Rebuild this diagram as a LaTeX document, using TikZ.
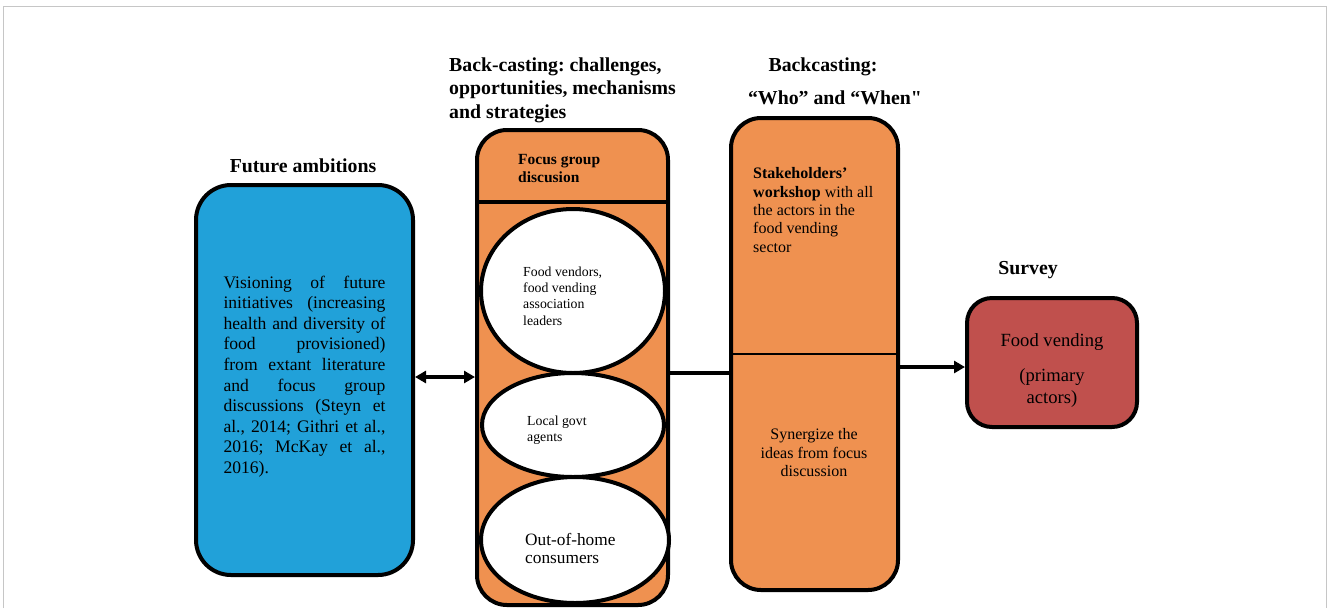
\documentclass[tikz,border=0pt]{standalone}
\usepackage{fontspec}
\setmainfont{Liberation Serif}
\newfontfamily\quotefont{Liberation Serif}
\usepackage{tikz}
\usetikzlibrary{arrows.meta,shapes.geometric,positioning}
\definecolor{visblue}{RGB}{33,161,217}
\definecolor{castorange}{RGB}{239,145,80}
\definecolor{surveyred}{RGB}{192,80,77}
\frenchspacing

\begin{document}
\begin{tikzpicture}[x=1pt,y=-1pt,
    stagebox/.style={draw, line width=4pt, rectangle, inner sep=0pt},
    oval/.style={draw, line width=4pt, ellipse, fill=white, inner sep=0pt},
    heading/.style={font=\bfseries\fontsize{19.8}{23.5}\selectfont, inner sep=0pt},
    body/.style={inner sep=0pt, align=left},
    link/.style={line width=3.5pt},
    >={Triangle[length=11pt,width=12pt]}]
            \fill[white] (0,0) rectangle (1330,608);
            \draw[gray!45, line width=1pt] (3,608) -- (3,6) -- (1326,6) -- (1326,608);

            \node[heading, anchor=base] at (303,172) (H1) {Future ambitions};
            \node[heading, anchor=west, align=left] at (449,90) (H2) {Back-casting: challenges,\\opportunities, mechanisms\\and strategies};
            \node[heading, anchor=base] at (823,71) (H3) {Backcasting:};
            \node[heading, anchor=base, font={\quotefont\bfseries\fontsize{19.8}{23.5}\selectfont}] at (835,104) (H3b) {“Who” and “When"};
            \node[heading, anchor=base] at (1028,274) (H4) {Survey};

            \node[stagebox, fill=visblue, rounded corners=35pt, minimum width=217pt, minimum height=390pt] at (304.5,380) (VIS) {};
            \node[body, text width=162pt, align=justify, font=\fontsize{17.6}{20.6}\selectfont] at (304.5,376.5) (VIStxt) {\tolerance=9999
                Visioning of future\linebreak initiatives (increasing\linebreak health and diversity of\linebreak
                food provisioned)\linebreak from extant literature\linebreak and focus group\linebreak
                discussions (Steyn et\linebreak al., 2014; Githri et al.,\linebreak 2016; McKay et al.,\linebreak 2016).};

            \node[stagebox, fill=castorange, rounded corners=30pt, minimum width=191pt, minimum height=475pt] at (572.5,367.5) (FGD) {};
            \draw[line width=4pt] (FGD.west |- 0,202) -- (FGD.east |- 0,202);
            \node[body, anchor=west, font=\bfseries\fontsize{15.5}{18}\selectfont] at (518,169) (FGDlbl) {Focus group\\discusion};
            \node[oval, minimum width=184pt, minimum height=164pt] at (573,291) (FGD1) {};
            \node[oval, minimum width=182pt, minimum height=104pt] at (573,425) (FGD2) {};
            \node[oval, minimum width=188pt, minimum height=126pt] at (575,540) (FGD3) {};
            \node[body, anchor=west, font=\fontsize{13.8}{16.3}\selectfont] at (523,296) (FGD1txt) {Food vendors,\\food vending\\association\\leaders};
            \node[body, anchor=west, font=\fontsize{13.8}{15.5}\selectfont] at (527,430) (FGD2txt) {Local govt\\agents};
            \node[body, anchor=west, font=\fontsize{17.3}{18}\selectfont] at (525,548) (FGD3txt) {Out-of-home\\consumers};

            \node[stagebox, fill=castorange, rounded corners=30pt, minimum width=167pt, minimum height=472pt] at (814.5,354) (WS) {};
            \draw[line width=2pt] (WS.west) -- (WS.east);
            \node[body, anchor=west, font=\fontsize{16}{18.3}\selectfont] at (753,210) (WStxt) {\textbf{Stakeholders’}\\\textbf{workshop} with all\\the actors in the\\food vending\\sector};
            \node[body, align=center, font=\fontsize{16}{18.5}\selectfont] at (814,453) (WSsyn) {Synergize the\\ideas from focus\\discussion};

            \node[stagebox, fill=surveyred, rounded corners=25pt, minimum width=170pt, minimum height=129pt] at (1052,362.5) (SUR) {};
            \node[body, align=center, font=\fontsize{18.6}{22}\selectfont] at (1052,371) (SURtxt) {Food vending\\[13pt](primary\\actors)};

            \draw[link, <->] ([yshift=3pt]VIS.east) -- ([yshift=3pt]VIS.east -| FGD.west);
            \draw[link] ([yshift=-5.5pt]FGD.east) -- ([yshift=-5.5pt]FGD.east -| WS.west);
            \draw[link, ->] ([yshift=-4.5pt]SUR.west -| WS.east) -- ([yshift=-4.5pt]SUR.west);
        \end{tikzpicture}
\end{document}
